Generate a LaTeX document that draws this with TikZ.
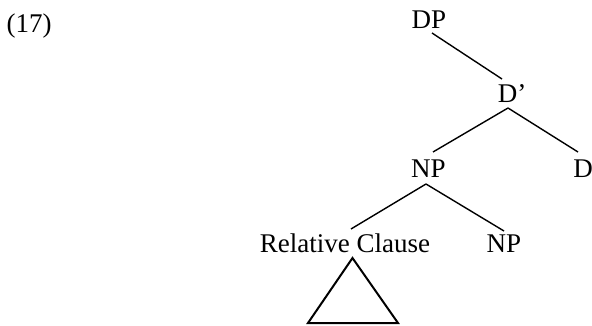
\documentclass[tikz,border=0pt]{standalone}
\usepackage{fontspec}
\setmainfont{Liberation Serif}
\usetikzlibrary{calc}
\begin{document}
\begin{tikzpicture}[x=1pt,y=-1pt,
  lab/.style={anchor=base,inner sep=0pt,font=\fontsize{27}{33}\selectfont},
  branch/.style={line width=1.4pt},
  tri/.style={line width=2pt,line join=miter}]
\useasboundingbox (0,0) rectangle (592,326);
\node[lab,anchor=base west] (ex) at (6.5,33) {(17)};
\node[lab] (dp) at (429,29) {DP};
\node[lab] (dbar) at (512,103) {D’};
\node[lab] (np) at (428.5,178) {NP};
\node[lab] (d) at (583,178) {D};
\node[lab] (rc) at (345,252) {Relative Clause};
\node[lab] (np2) at (504,252) {NP};
\draw[branch] ($(dp.base)+(3,4)$) -- ($(dbar.base)+(-10,-24)$);
\draw[branch] ($(dbar.base)+(-4,5)$) -- ($(np.base)+(4.5,-26)$);
\draw[branch] ($(dbar.base)+(-4,5)$) -- ($(d.base)+(-5,-26)$);
\draw[branch] ($(np.base)+(-2.5,6)$) -- ($(rc.base)+(6,-23)$);
\draw[branch] ($(np.base)+(-2.5,6)$) -- ($(np2.base)+(0,-21)$);
\draw[tri] ($(rc.base)+(7.5,6)$) -- ($(rc.base)+(-37,71)$) -- ($(rc.base)+(53,71)$) -- cycle;
\end{tikzpicture}
\end{document}
